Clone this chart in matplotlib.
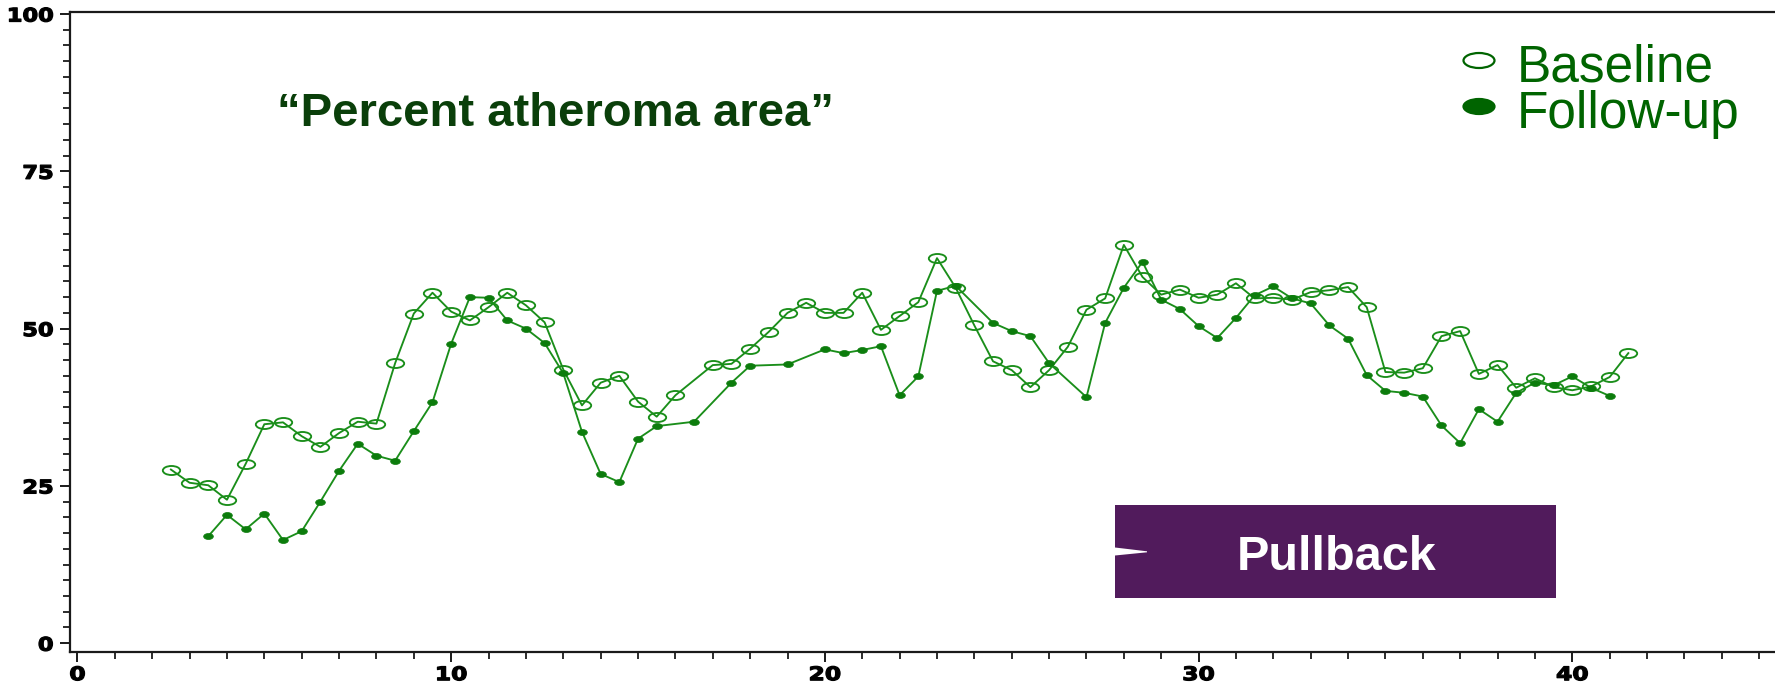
import matplotlib
matplotlib.use("Agg")
import matplotlib.pyplot as plt
from matplotlib.path import Path
from matplotlib.patches import Rectangle, Ellipse, Polygon
from matplotlib.patheffects import AbstractPathEffect
from matplotlib.transforms import Affine2D
from matplotlib.ticker import MultipleLocator

# ---- data: percent atheroma area along the pullback (mm) ----
baseline_x = [2.5, 3.0, 3.5, 4.0, 4.5, 5.0, 5.5, 6.0, 6.5, 7.0, 7.5, 8.0, 8.5, 9.0,
              9.5, 10.0, 10.5, 11.0, 11.5, 12.0, 12.5, 13.0, 13.5, 14.0, 14.5, 15.0,
              15.5, 16.0, 17.0, 17.5, 18.0, 18.5, 19.0, 19.5, 20.0, 20.5, 21.0, 21.5,
              22.0, 22.5, 23.0, 23.5, 24.0, 24.5, 25.0, 25.5, 26.0, 26.5, 27.0, 27.5,
              28.0, 28.5, 29.0, 29.5, 30.0, 30.5, 31.0, 31.5, 32.0, 32.5, 33.0, 33.5,
              34.0, 34.5, 35.0, 35.5, 36.0, 36.5, 37.0, 37.5, 38.0, 38.5, 39.0, 39.5,
              40.0, 40.5, 41.0, 41.5]
baseline_y = [27.6, 25.5, 25.1, 22.8, 28.5, 34.8, 35.1, 32.9, 31.2, 33.4, 35.2, 34.9, 44.5, 52.4,
              55.7, 52.7, 51.3, 53.4, 55.7, 53.7, 51.0, 43.5, 37.8, 41.4, 42.5, 38.4,
              36.0, 39.4, 44.2, 44.4, 46.8, 49.5, 52.5, 54.1, 52.5, 52.5, 55.7, 49.8,
              52.0, 54.2, 61.2, 56.5, 50.5, 44.8, 43.4, 40.7, 43.4, 47.1, 53.0, 54.8,
              63.3, 58.2, 55.4, 56.2, 54.9, 55.4, 57.2, 54.8, 54.9, 54.6, 55.8, 56.1,
              56.6, 53.4, 43.1, 43.0, 43.7, 48.8, 49.6, 42.8, 44.2, 40.6, 42.1, 40.7,
              40.2, 40.8, 42.3, 46.1]

followup_x = [3.5, 4.0, 4.5, 5.0, 5.5, 6.0, 6.5, 7.0, 7.5, 8.0, 8.5, 9.0, 9.5, 10.0,
              10.5, 11.0, 11.5, 12.0, 12.5, 13.0, 13.5, 14.0, 14.5, 15.0, 15.5, 16.5,
              17.5, 18.0, 19.0, 20.0, 20.5, 21.0, 21.5, 22.0, 22.5, 23.0, 23.5, 24.5,
              25.0, 25.5, 26.0, 27.0, 27.5, 28.0, 28.5, 29.0, 29.5, 30.0, 30.5, 31.0,
              31.5, 32.0, 32.5, 33.0, 33.5, 34.0, 34.5, 35.0, 35.5, 36.0, 36.5, 37.0,
              37.5, 38.0, 38.5, 39.0, 39.5, 40.0, 40.5, 41.0]
followup_y = [17.0, 20.4, 18.1, 20.6, 16.4, 17.8, 22.5, 27.4, 31.7, 29.8, 29.0, 33.7, 38.3, 47.6,
              55.0, 54.9, 51.3, 50.0, 47.7, 42.9, 33.6, 26.9, 25.6, 32.5, 34.5, 35.2,
              41.4, 44.1, 44.3, 46.7, 46.1, 46.6, 47.2, 39.4, 42.4, 56.0, 56.8, 50.9,
              49.6, 48.8, 44.5, 39.1, 50.9, 56.5, 60.6, 54.6, 53.1, 50.4, 48.5, 51.7,
              55.3, 56.7, 54.8, 54.0, 50.5, 48.4, 42.6, 40.1, 39.8, 39.2, 34.6, 31.8,
              37.2, 35.2, 39.8, 41.4, 41.0, 42.4, 40.6, 39.3]

x_ticks = [0, 10, 20, 30, 40]
y_ticks = [0, 25, 50, 75, 100]
series_labels = ["Baseline", "Follow-up"]
title_text = "\u201cPercent atheroma area\u201d"
box_text = "Pullback"

# ---- styling ----
LINE_GREEN = "#1a8e1a"
MARK_GREEN = "#0c7c0c"
LEGEND_GREEN = "#006400"
TITLE_GREEN = "#0a3f0a"
BOX_PURPLE = "#511b5c"
AXIS_BLACK = "#1a1a1a"

W, H = 1775, 683


def fxp(px):
    return px / W


def fyp(py):
    return 1 - py / H


class WideGlyphs(AbstractPathEffect):
    """Stretch glyphs horizontally about an anchor and embolden them with a stroke."""

    def __init__(self, sx, anchor="center", stroke=0.9):
        super().__init__()
        self.sx = sx
        self.anchor = anchor
        self.stroke = stroke

    def draw_path(self, renderer, gc, tpath, affine, rgbFace=None):
        ext = tpath.get_extents()
        if self.anchor == "right":
            x0 = ext.x1
        elif self.anchor == "left":
            x0 = ext.x0
        else:
            x0 = 0.5 * (ext.x0 + ext.x1)
        t = Affine2D().translate(-x0, 0).scale(self.sx, 1).translate(x0, 0)
        gc0 = renderer.new_gc()
        gc0.copy_properties(gc)
        gc0.set_linewidth(self.stroke)
        if rgbFace is not None:
            gc0.set_foreground(rgbFace)
        gc0.set_joinstyle("round")
        renderer.draw_path(gc0, tpath, t + affine, rgbFace)
        gc0.restore()


def ellipse_marker(ratio):
    return Path.unit_circle().transformed(Affine2D().scale(1.0, ratio))


fig = plt.figure(figsize=(W / 100, H / 100), dpi=100)
fig.patch.set_facecolor("white")

x_min, x_max = -0.2, 46.0
y_min, y_max = -1.4, 100.4
px_per_x = 37.37
ax_left, ax_bottom_px, ax_top_px = 70, 652, 11.5
ax = fig.add_axes([fxp(ax_left), fyp(ax_bottom_px),
                   (x_max - x_min) * px_per_x / W, (ax_bottom_px - ax_top_px) / H])
ax.set_xlim(x_min, x_max)
ax.set_ylim(y_min, y_max)

ax.plot(baseline_x, baseline_y, color=LINE_GREEN, lw=1.35,
        marker=ellipse_marker(0.52), ms=12.5, mfc="none", mec=LINE_GREEN, mew=1.35,
        zorder=3, clip_on=False)
ax.plot(followup_x, followup_y, color=LINE_GREEN, lw=1.35,
        marker=ellipse_marker(0.62), ms=7.0, mfc=MARK_GREEN, mec=MARK_GREEN, mew=0.5,
        zorder=4, clip_on=False)

# axes frame
for side in ("left", "bottom", "top"):
    ax.spines[side].set_linewidth(1.6)
    ax.spines[side].set_color(AXIS_BLACK)
ax.spines["right"].set_visible(False)

ax.set_xticks(x_ticks)
ax.set_yticks(y_ticks)
ax.xaxis.set_minor_locator(MultipleLocator(1))
ax.yaxis.set_minor_locator(MultipleLocator(2.5))
ax.tick_params(axis="both", which="major", direction="out", length=7, width=1.4,
               color=AXIS_BLACK, labelsize=13.5, labelcolor="black")
ax.tick_params(axis="both", which="minor", direction="out", length=4.8, width=1.3,
               color=AXIS_BLACK)
ax.tick_params(axis="y", which="major", pad=5)
ax.tick_params(axis="x", which="major", pad=2.5)
ax.tick_params(top=False, right=False, which="both")

for t in ax.xaxis.get_major_ticks():
    t.label1.set_fontweight("bold")
    t.label1.set_path_effects([WideGlyphs(1.25, "center")])
for t in ax.yaxis.get_major_ticks():
    t.label1.set_fontweight("bold")
    t.label1.set_path_effects([WideGlyphs(1.2, "right")])

# heading
fig.text(fxp(277), fyp(126), title_text, family="Liberation Sans", fontweight="bold",
         fontsize=34, color=TITLE_GREEN, ha="left", va="baseline")

# legend entries
legend_rows = [(82, False), (128, True)]
for label, (base_py, filled) in zip(series_labels, legend_rows):
    cy = base_py - 21.5
    fig.add_artist(Ellipse((fxp(1479), fyp(cy)), 31 / W, 15 / H,
                           transform=fig.transFigure,
                           facecolor=LEGEND_GREEN if filled else "none",
                           edgecolor=LEGEND_GREEN, linewidth=1.6))
    fig.text(fxp(1517), fyp(base_py), label, family="Liberation Sans", fontsize=37,
             color=LEGEND_GREEN, ha="left", va="baseline")

# pullback box with its white pointer notch
bx0, bx1, by0, by1 = 1115, 1556, 505, 598
fig.add_artist(Rectangle((fxp(bx0), fyp(by1)), (bx1 - bx0) / W, (by1 - by0) / H,
                         transform=fig.transFigure, facecolor=BOX_PURPLE,
                         edgecolor="none"))
fig.add_artist(Polygon([(fxp(1115), fyp(547.5)), (fxp(1147), fyp(551.3)),
                        (fxp(1147), fyp(552.3)), (fxp(1115), fyp(555.5))],
                       closed=True, transform=fig.transFigure,
                       facecolor="white", edgecolor="none"))
fig.text(fxp((bx0 + bx1) / 2 + 1), fyp(570), box_text, family="Liberation Sans",
         fontweight="bold", fontsize=35, color="white", ha="center", va="baseline")

fig.savefig("out.png", dpi=100, facecolor="white")
